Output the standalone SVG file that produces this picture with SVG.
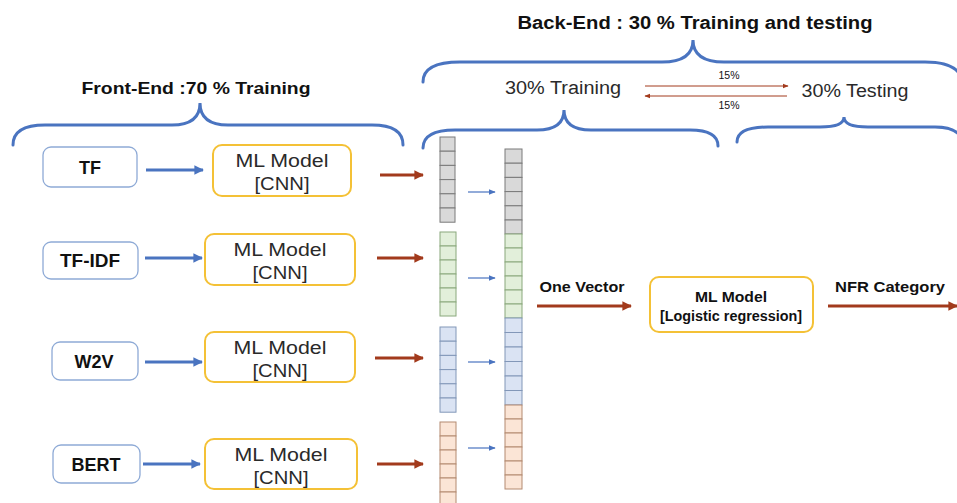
<svg xmlns="http://www.w3.org/2000/svg" width="957" height="503" viewBox="0 0 957 503">
<defs>
<style>
.brace{fill:none;stroke:#4a74c0;stroke-width:3;stroke-linecap:round}
.inbox{fill:#fff;stroke:#8eaad6;stroke-width:1.3}
.ml{fill:#fff;stroke:#f4c136;stroke-width:2}
.barrow{stroke:#4a74c0;stroke-width:3;fill:none}
.sarrow{stroke:#4a74c0;stroke-width:1.2;fill:none}
.rarrow{stroke:#a23a1c;stroke-width:3;fill:none}
.tarrow{stroke:#a23a1c;stroke-width:1;fill:none}
.t{font-family:"Liberation Sans",Arial,sans-serif;fill:#111}
.m{fill:#2a2a2a}
.b{font-weight:bold}
.g{fill:#d9d9d9;stroke:#7a7a7a;stroke-width:1}
.gr{fill:#e2efda;stroke:#8aa87c;stroke-width:1}
.bl{fill:#dae3f3;stroke:#8297b8;stroke-width:1}
.or{fill:#fbe5d6;stroke:#b38a70;stroke-width:1}
</style>
<marker id="ab" viewBox="0 0 10 10" refX="9" refY="5" markerWidth="3.2" markerHeight="3.2" orient="auto"><path d="M0,0 L10,5 L0,10 z" fill="#4a74c0"/></marker>
<marker id="abs" viewBox="0 0 10 10" refX="9" refY="5" markerWidth="6" markerHeight="6" orient="auto"><path d="M0,1 L10,5 L0,9 z" fill="#4a74c0"/></marker>
<marker id="ar" viewBox="0 0 10 10" refX="9" refY="5" markerWidth="3.4" markerHeight="3.2" orient="auto"><path d="M0,0 L10,5 L0,10 z" fill="#a23a1c"/></marker>
<marker id="art" viewBox="0 0 10 10" refX="9" refY="5" markerWidth="6" markerHeight="6" orient="auto"><path d="M0,1 L10,5 L0,9 z" fill="#a23a1c"/></marker>
</defs>
<rect width="957" height="503" fill="#fff"/>

<g id="titles">
<text class="t b" x="196" y="94" font-size="17" text-anchor="middle" textLength="229" lengthAdjust="spacingAndGlyphs">Front-End :70 % Training</text>
<text class="t b" x="695" y="29" font-size="18" text-anchor="middle" textLength="355" lengthAdjust="spacingAndGlyphs">Back-End : 30 % Training and testing</text>
<text class="t m" x="563" y="94" font-size="18" text-anchor="middle" textLength="116" lengthAdjust="spacingAndGlyphs">30% Training</text>
<text class="t m" x="855" y="97" font-size="18" text-anchor="middle" textLength="107" lengthAdjust="spacingAndGlyphs">30% Testing</text>
<text class="t" x="729" y="79" font-size="10.5" text-anchor="middle" fill="#444">15%</text>
<text class="t" x="729" y="109" font-size="10.5" text-anchor="middle" fill="#444">15%</text>
</g>

<g id="braces">
<path class="brace" d="M13,145 Q13,125 45,125 L172,125 Q200,125 200,103 Q200,125 228,125 L372,125 Q403,125 403,145"/>
<path class="brace" d="M423,82 Q423,62 460,62 L662,62 Q693,62 693,40 Q693,62 724,62 L925,62 Q958,62 962,80"/>
<path class="brace" d="M423,148 Q423,130 455,130 L537,130 Q564,130 564,110 Q564,130 591,130 L690,130 Q718,130 718,146"/>
<path class="brace" d="M737,142 Q737,127 768,127 L820,127 Q844,127 844,117 Q844,127 868,127 L935,127 Q958,127 962,140"/>
</g>

<g id="n-tf"><rect class="inbox" x="43" y="147" width="94" height="40" rx="8"/><text class="t b" x="90" y="174" font-size="18" text-anchor="middle">TF</text></g>
<g id="n-tfidf"><rect class="inbox" x="43" y="242" width="95" height="37" rx="8"/><text class="t b" x="90" y="267" font-size="18" text-anchor="middle" textLength="60" lengthAdjust="spacingAndGlyphs">TF-IDF</text></g>
<g id="n-w2v"><rect class="inbox" x="52" y="342" width="86" height="38" rx="8"/><text class="t b" x="94" y="368" font-size="18" text-anchor="middle">W2V</text></g>
<g id="n-bert"><rect class="inbox" x="53" y="445" width="87" height="38" rx="8"/><text class="t b" x="96" y="471" font-size="18" text-anchor="middle">BERT</text></g>

<g id="n-ml1"><rect class="ml" x="213" y="145" width="138" height="51" rx="9"/><text class="t m" x="282" y="167" font-size="18" text-anchor="middle" textLength="93" lengthAdjust="spacingAndGlyphs">ML Model</text><text class="t m" x="282" y="190" font-size="18" text-anchor="middle" textLength="55" lengthAdjust="spacingAndGlyphs">[CNN]</text></g>
<g id="n-ml2"><rect class="ml" x="205" y="234" width="150" height="51" rx="9"/><text class="t m" x="280" y="256" font-size="18" text-anchor="middle" textLength="93" lengthAdjust="spacingAndGlyphs">ML Model</text><text class="t m" x="280" y="279" font-size="18" text-anchor="middle" textLength="55" lengthAdjust="spacingAndGlyphs">[CNN]</text></g>
<g id="n-ml3"><rect class="ml" x="205" y="332" width="150" height="50" rx="9"/><text class="t m" x="280" y="354" font-size="18" text-anchor="middle" textLength="93" lengthAdjust="spacingAndGlyphs">ML Model</text><text class="t m" x="280" y="377" font-size="18" text-anchor="middle" textLength="55" lengthAdjust="spacingAndGlyphs">[CNN]</text></g>
<g id="n-ml4"><rect class="ml" x="205" y="439" width="152" height="50" rx="9"/><text class="t m" x="281" y="461" font-size="18" text-anchor="middle" textLength="93" lengthAdjust="spacingAndGlyphs">ML Model</text><text class="t m" x="281" y="484" font-size="18" text-anchor="middle" textLength="55" lengthAdjust="spacingAndGlyphs">[CNN]</text></g>

<g id="n-vec-gray1">
<rect class="g" x="440" y="137" width="15" height="14.2"/><rect class="g" x="440" y="151.2" width="15" height="14.2"/><rect class="g" x="440" y="165.4" width="15" height="14.2"/><rect class="g" x="440" y="179.6" width="15" height="14.2"/><rect class="g" x="440" y="193.8" width="15" height="14.2"/><rect class="g" x="440" y="208" width="15" height="14.2"/>
</g>
<g id="n-vec-green1">
<rect class="gr" x="440" y="232" width="16" height="14"/><rect class="gr" x="440" y="246" width="16" height="14"/><rect class="gr" x="440" y="260" width="16" height="14"/><rect class="gr" x="440" y="274" width="16" height="14"/><rect class="gr" x="440" y="288" width="16" height="14"/><rect class="gr" x="440" y="302" width="16" height="14"/>
</g>
<g id="n-vec-blue1">
<rect class="bl" x="440" y="327" width="16" height="14.2"/><rect class="bl" x="440" y="341.2" width="16" height="14.2"/><rect class="bl" x="440" y="355.4" width="16" height="14.2"/><rect class="bl" x="440" y="369.6" width="16" height="14.2"/><rect class="bl" x="440" y="383.8" width="16" height="14.2"/><rect class="bl" x="440" y="398" width="16" height="14.2"/>
</g>
<g id="n-vec-orange1">
<rect class="or" x="440" y="422" width="16" height="14"/><rect class="or" x="440" y="436" width="16" height="14"/><rect class="or" x="440" y="450" width="16" height="14"/><rect class="or" x="440" y="464" width="16" height="14"/><rect class="or" x="440" y="478" width="16" height="14"/><rect class="or" x="440" y="492" width="16" height="14"/>
</g>
<g id="n-vec-combined">
<rect class="g" x="505" y="149" width="17" height="14.2"/><rect class="g" x="505" y="163.2" width="17" height="14.2"/><rect class="g" x="505" y="177.4" width="17" height="14.2"/><rect class="g" x="505" y="191.6" width="17" height="14.2"/><rect class="g" x="505" y="205.8" width="17" height="14.2"/><rect class="g" x="505" y="220" width="17" height="14"/>
<rect class="gr" x="505" y="234" width="17" height="14"/><rect class="gr" x="505" y="248" width="17" height="14"/><rect class="gr" x="505" y="262" width="17" height="14"/><rect class="gr" x="505" y="276" width="17" height="14"/><rect class="gr" x="505" y="290" width="17" height="14"/><rect class="gr" x="505" y="304" width="17" height="14"/>
<rect class="bl" x="505" y="318" width="17" height="14.5"/><rect class="bl" x="505" y="332.5" width="17" height="14.5"/><rect class="bl" x="505" y="347" width="17" height="14.5"/><rect class="bl" x="505" y="361.5" width="17" height="14.5"/><rect class="bl" x="505" y="376" width="17" height="14.5"/><rect class="bl" x="505" y="390.5" width="17" height="14.5"/>
<rect class="or" x="505" y="405" width="17" height="14"/><rect class="or" x="505" y="419" width="17" height="14"/><rect class="or" x="505" y="433" width="17" height="14"/><rect class="or" x="505" y="447" width="17" height="14"/><rect class="or" x="505" y="461" width="17" height="14"/><rect class="or" x="505" y="475" width="17" height="14"/>
</g>

<g id="n-ml-lr"><rect class="ml" x="650" y="277" width="163" height="55" rx="9"/><text class="t b" x="731" y="302" font-size="14" text-anchor="middle" textLength="72" lengthAdjust="spacingAndGlyphs">ML Model</text><text class="t b" x="731" y="321" font-size="14" text-anchor="middle" textLength="142" lengthAdjust="spacingAndGlyphs">[Logistic regression]</text></g>

<g id="labels">
<text class="t b" x="582" y="292" font-size="14.5" text-anchor="middle" textLength="85" lengthAdjust="spacingAndGlyphs">One Vector</text>
<text class="t b" x="890" y="292" font-size="15" text-anchor="middle" textLength="110" lengthAdjust="spacingAndGlyphs">NFR Category</text>
</g>

<g id="connectors">
<line class="barrow" x1="146" y1="170" x2="203" y2="170" marker-end="url(#ab)"/>
<line class="barrow" x1="145" y1="258" x2="202" y2="258" marker-end="url(#ab)"/>
<line class="barrow" x1="145" y1="362" x2="202" y2="362" marker-end="url(#ab)"/>
<line class="barrow" x1="143" y1="464" x2="200" y2="464" marker-end="url(#ab)"/>
<line class="rarrow" x1="380" y1="175" x2="423" y2="175" marker-end="url(#ar)"/>
<line class="rarrow" x1="377" y1="258" x2="423" y2="258" marker-end="url(#ar)"/>
<line class="rarrow" x1="375" y1="358" x2="423" y2="358" marker-end="url(#ar)"/>
<line class="rarrow" x1="377" y1="464" x2="423" y2="464" marker-end="url(#ar)"/>
<line class="sarrow" x1="468" y1="192" x2="495" y2="192" marker-end="url(#abs)"/>
<line class="sarrow" x1="468" y1="278" x2="495" y2="278" marker-end="url(#abs)"/>
<line class="sarrow" x1="468" y1="362" x2="495" y2="362" marker-end="url(#abs)"/>
<line class="sarrow" x1="468" y1="448" x2="495" y2="448" marker-end="url(#abs)"/>
<line class="rarrow" x1="537" y1="306" x2="631" y2="306" marker-end="url(#ar)"/>
<line class="rarrow" x1="828" y1="306" x2="957" y2="306" marker-end="url(#ar)"/>
<line class="tarrow" x1="645" y1="86" x2="788" y2="86" marker-end="url(#art)"/>
<line class="tarrow" x1="787" y1="96" x2="645" y2="96" marker-end="url(#art)"/>
</g>
</svg>
